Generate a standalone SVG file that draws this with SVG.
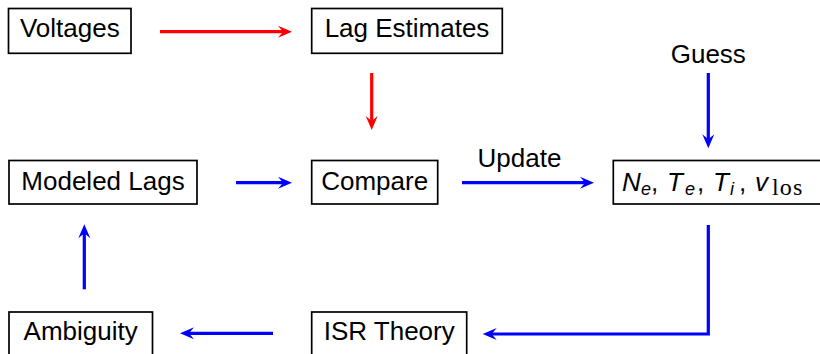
<svg xmlns="http://www.w3.org/2000/svg" width="820" height="354" viewBox="0 0 820 354">
<style>
.box{fill:#fff;stroke:#000;stroke-width:1.7}
.t{font-family:"Liberation Sans",Arial,sans-serif;font-size:26px;fill:#000;text-anchor:middle}
.m{font-family:"Liberation Sans",Arial,sans-serif;font-size:26px;fill:#000}
.it{font-style:italic}
.sub{font-size:18px}
.rm{font-family:"Liberation Serif","Times New Roman",serif;font-style:normal;font-size:24px;letter-spacing:1.2px}
.red{fill:none;stroke:#ff0000;stroke-width:3.2}
.blue{fill:none;stroke:#0000ff;stroke-width:3.2}
</style>
<defs>
<marker id="ar" markerUnits="userSpaceOnUse" viewBox="-15 -7 16 14" markerWidth="16" markerHeight="14" refX="-8" refY="0" orient="auto">
<path d="M0,0 L-14,-6 L-9,0 L-14,6 Z" fill="#ff0000"/>
</marker>
<marker id="ab" markerUnits="userSpaceOnUse" viewBox="-15 -7 16 14" markerWidth="16" markerHeight="14" refX="-8" refY="0" orient="auto">
<path d="M0,0 L-14,-6 L-9,0 L-14,6 Z" fill="#0000ff"/>
</marker>
</defs>
<rect width="820" height="354" fill="#fff"/>
<g id="connectors">
<path class="red" d="M160,31.7 H284" marker-end="url(#ar)"/>
<path class="red" d="M371.7,73 V122" marker-end="url(#ar)"/>
<path class="blue" d="M236,182.7 H284" marker-end="url(#ab)"/>
<path class="blue" d="M462,182.7 H586" marker-end="url(#ab)"/>
<path class="blue" d="M708.3,73 V140.3" marker-end="url(#ab)"/>
<path class="blue" d="M708.3,225 V334 H490.7" marker-end="url(#ab)"/>
<path class="blue" d="M273,333.3 H188" marker-end="url(#ab)"/>
<path class="blue" d="M84.3,289.3 V232.3" marker-end="url(#ab)"/>
</g>
<g id="voltages">
<rect class="box" x="8.5" y="8.5" width="122.5" height="44.8"/>
<text class="t" x="69.8" y="37">Voltages</text>
</g>
<g id="lag-estimates">
<rect class="box" x="311.7" y="8.5" width="190.6" height="44.8"/>
<text class="t" x="407" y="37">Lag Estimates</text>
</g>
<g id="guess">
<text class="t" x="708.3" y="63.3">Guess</text>
</g>
<g id="modeled-lags">
<rect class="box" x="9" y="160.5" width="188" height="43.5"/>
<text class="t" x="103" y="190">Modeled Lags</text>
</g>
<g id="compare">
<rect class="box" x="311.7" y="160.5" width="126" height="43.5"/>
<text class="t" x="374.7" y="190">Compare</text>
</g>
<g id="update-label">
<text class="t" x="519.5" y="166.7">Update</text>
</g>
<g id="parameters">
<rect class="box" x="613.3" y="160.5" width="212" height="43.5"/>
<text class="m" y="191"><tspan class="it" x="622">N</tspan><tspan class="it sub" x="641" dy="4">e</tspan><tspan x="651" dy="-4">,</tspan><tspan class="it" x="667">T</tspan><tspan class="it sub" x="685" dy="4">e</tspan><tspan x="697" dy="-4">,</tspan><tspan class="it" x="713">T</tspan><tspan class="it sub" x="730" dy="4">i</tspan><tspan x="739" dy="-4">,</tspan><tspan class="it" x="755">v</tspan><tspan class="rm" x="772" dy="4">los</tspan></text>
</g>
<g id="isr-theory">
<rect class="box" x="311.7" y="312" width="155" height="60"/>
<text class="t" x="389.2" y="340">ISR Theory</text>
</g>
<g id="ambiguity">
<rect class="box" x="9" y="312" width="143.5" height="60"/>
<text class="t" x="80.7" y="340">Ambiguity</text>
</g>
</svg>
